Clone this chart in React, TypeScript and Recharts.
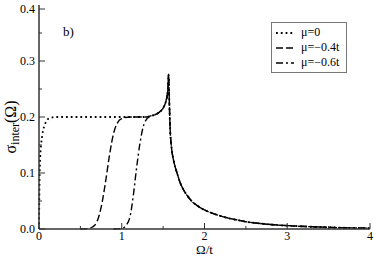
import React from "react";
import { LineChart, Line, XAxis, YAxis, Legend } from "recharts";

// interband conductivity vs frequency, three chemical potentials
const mu0Omega = [0, 0.004, 0.008, 0.015, 0.025, 0.04, 0.06, 0.08, 0.1, 0.13, 0.2, 0.4, 0.6, 0.8, 1.0, 1.2, 1.3];
const mu0Sigma = [0, 0.06, 0.1, 0.13, 0.15, 0.168, 0.182, 0.19, 0.195, 0.198, 0.2, 0.2, 0.2, 0.2, 0.2, 0.2, 0.2];

const mu04Omega = [0.5, 0.6, 0.65, 0.7, 0.75, 0.8, 0.85, 0.9, 0.95, 1.0, 1.1, 1.2, 1.3];
const mu04Sigma = [0, 0.001, 0.004, 0.013, 0.038, 0.08, 0.13, 0.17, 0.19, 0.197, 0.2, 0.2, 0.2];

const mu06Omega = [0.9, 1.0, 1.05, 1.1, 1.14, 1.18, 1.22, 1.26, 1.3];
const mu06Sigma = [0, 0.001, 0.006, 0.022, 0.06, 0.11, 0.153, 0.183, 0.196];

// all three curves coincide above ~1.3
const tailOmega = [1.35, 1.4, 1.45, 1.5, 1.53, 1.55, 1.56, 1.565, 1.572, 1.578, 1.585, 1.6, 1.62, 1.64, 1.67, 1.7, 1.75, 1.8, 1.85, 1.9, 2.0, 2.1, 2.2, 2.3, 2.4, 2.5, 2.6, 2.8, 3.0, 3.3, 3.6, 4.0];
const tailSigma = [0.202, 0.204, 0.208, 0.216, 0.226, 0.24, 0.256, 0.276, 0.245, 0.21, 0.178, 0.147, 0.127, 0.114, 0.099, 0.085, 0.069, 0.058, 0.049, 0.043, 0.034, 0.028, 0.023, 0.019, 0.016, 0.013, 0.011, 0.008, 0.006, 0.004, 0.0025, 0.0015];

const xTicks = [0, 0.5, 1, 1.5, 2, 2.5, 3, 3.5, 4];
const yTicks = [0, 0.05, 0.1, 0.15, 0.2, 0.25, 0.3, 0.35, 0.4];
const seriesNames = ["μ=0", "μ=−0.4t", "μ=−0.6t"];

const toPoints = (xs: number[], ys: number[]) =>
  xs.map((x, i) => ({ x, y: ys[i] })).concat(tailOmega.map((x, i) => ({ x, y: tailSigma[i] })));

const series = [
  { name: seriesNames[0], data: toPoints(mu0Omega, mu0Sigma), dash: "1.8 3", width: 1.8 },
  { name: seriesNames[1], data: toPoints(mu04Omega, mu04Sigma), dash: "7 3", width: 1.4 },
  { name: seriesNames[2], data: toPoints(mu06Omega, mu06Sigma), dash: "7 3 2 3", width: 1.4 },
];

const W = 374;
const H = 256;
const M = { top: 5, right: 4, bottom: 27, left: 39 };
// frame edges of the plot area
const LEFT = M.left;
const RIGHT = W - M.right;
const TOP = M.top;
const BOTTOM = H - M.bottom;

const FONT = "Liberation Serif, Times New Roman, DejaVu Serif, serif";
const AXIS = "#333";

const isMajor = (v: number, step: number) => Math.abs(v / step - Math.round(v / step)) < 1e-6;

const LeftTick = ({ y, payload }: any) => {
  const major = isMajor(payload.value, 0.1);
  return (
    <g>
      <line x1={LEFT} x2={LEFT + (major ? 6 : 3)} y1={y} y2={y} stroke={AXIS} />
      {major && (
        <text x={LEFT - 4} y={y} dy={4} textAnchor="end" fontSize={12} style={{ fontFamily: FONT }} fill="#000">
          {payload.value.toFixed(1)}
        </text>
      )}
    </g>
  );
};

const RightTick = ({ y, payload }: any) => {
  const major = isMajor(payload.value, 0.1);
  return <line x1={RIGHT} x2={RIGHT - (major ? 6 : 3)} y1={y} y2={y} stroke={AXIS} />;
};

const BottomTick = ({ x, payload }: any) => {
  const major = isMajor(payload.value, 1);
  return (
    <g>
      <line x1={x} x2={x} y1={BOTTOM} y2={BOTTOM - (major ? 6 : 3)} stroke={AXIS} />
      {major && (
        <text x={x} y={BOTTOM + 11} textAnchor="middle" fontSize={12} style={{ fontFamily: FONT }} fill="#000">
          {payload.value}
        </text>
      )}
    </g>
  );
};

const TopTick = ({ x, payload }: any) => {
  const major = isMajor(payload.value, 1);
  return <line x1={x} x2={x} y1={TOP} y2={TOP + (major ? 6 : 3)} stroke={AXIS} />;
};

const yLabel = () => (
  <text x={16} y={127} transform="rotate(-90, 16, 127)" textAnchor="middle" fontSize={16} style={{ fontFamily: FONT }} fill="#000">
    σ<tspan fontSize={12} dy={3}>inter</tspan>
    <tspan dy={-3}>(Ω)</tspan>
  </text>
);

const xLabel = () => (
  <text x={(LEFT + RIGHT) / 2} y={H - 2} textAnchor="middle" fontSize={13} style={{ fontFamily: FONT }} fill="#000">
    Ω/t
  </text>
);

const LegendBox = () => (
  <div style={{ border: "1px solid #777", background: "#fff", padding: "2px 4px 2px 3px", fontFamily: FONT, fontSize: 12 }}>
    {series.map((s) => (
      <div key={s.name} style={{ display: "flex", alignItems: "center", height: 15 }}>
        <svg width={20} height={10} style={{ marginRight: 6 }}>
          <line x1={1} x2={19} y1={5} y2={5} stroke="#000" strokeWidth={s.width} strokeDasharray={s.dash} />
        </svg>
        <span>{s.name}</span>
      </div>
    ))}
  </div>
);

export default function App() {
  return (
    <div style={{ position: "absolute", left: 0, top: 0, width: W, height: H, background: "#fff" }}>
      <LineChart width={W} height={H} margin={{ top: M.top, right: M.right, bottom: 0, left: 0 }}>
        <XAxis
          xAxisId="b" dataKey="x" type="number" domain={[0, 4]} ticks={xTicks} height={M.bottom}
          tick={<BottomTick />} tickLine={false}
          axisLine={{ stroke: AXIS, strokeWidth: 1.5 }}
          label={{ content: xLabel }}
        />
        <XAxis
          xAxisId="t" orientation="top" dataKey="x" type="number" domain={[0, 4]} ticks={xTicks} height={0}
          tick={<TopTick />} tickLine={false}
          axisLine={{ stroke: AXIS, strokeWidth: 1.5 }}
        />
        <YAxis
          yAxisId="l" type="number" domain={[0, 0.4]} ticks={yTicks} width={M.left}
          tick={<LeftTick />} tickLine={false}
          axisLine={{ stroke: AXIS, strokeWidth: 1.5 }}
          label={{ content: yLabel }}
        />
        <YAxis
          yAxisId="r" orientation="right" type="number" domain={[0, 0.4]} ticks={yTicks} width={0}
          tick={<RightTick />} tickLine={false}
          axisLine={{ stroke: AXIS, strokeWidth: 1.5 }}
        />
        {series.map((s) => (
          <Line
            key={s.name} xAxisId="b" yAxisId="l" data={s.data} dataKey="y" name={s.name}
            type="monotone" stroke="#000" strokeWidth={s.width} strokeDasharray={s.dash}
            dot={false} activeDot={false} isAnimationActive={false}
          />
        ))}
        <Legend
          layout="horizontal" verticalAlign="middle" content={<LegendBox />}
          wrapperStyle={{ left: 271, top: 22, width: 76 }}
        />
      </LineChart>
      <span style={{ position: "absolute", left: 63, top: 24, fontFamily: FONT, fontSize: 13 }}>b)</span>
    </div>
  );
}
